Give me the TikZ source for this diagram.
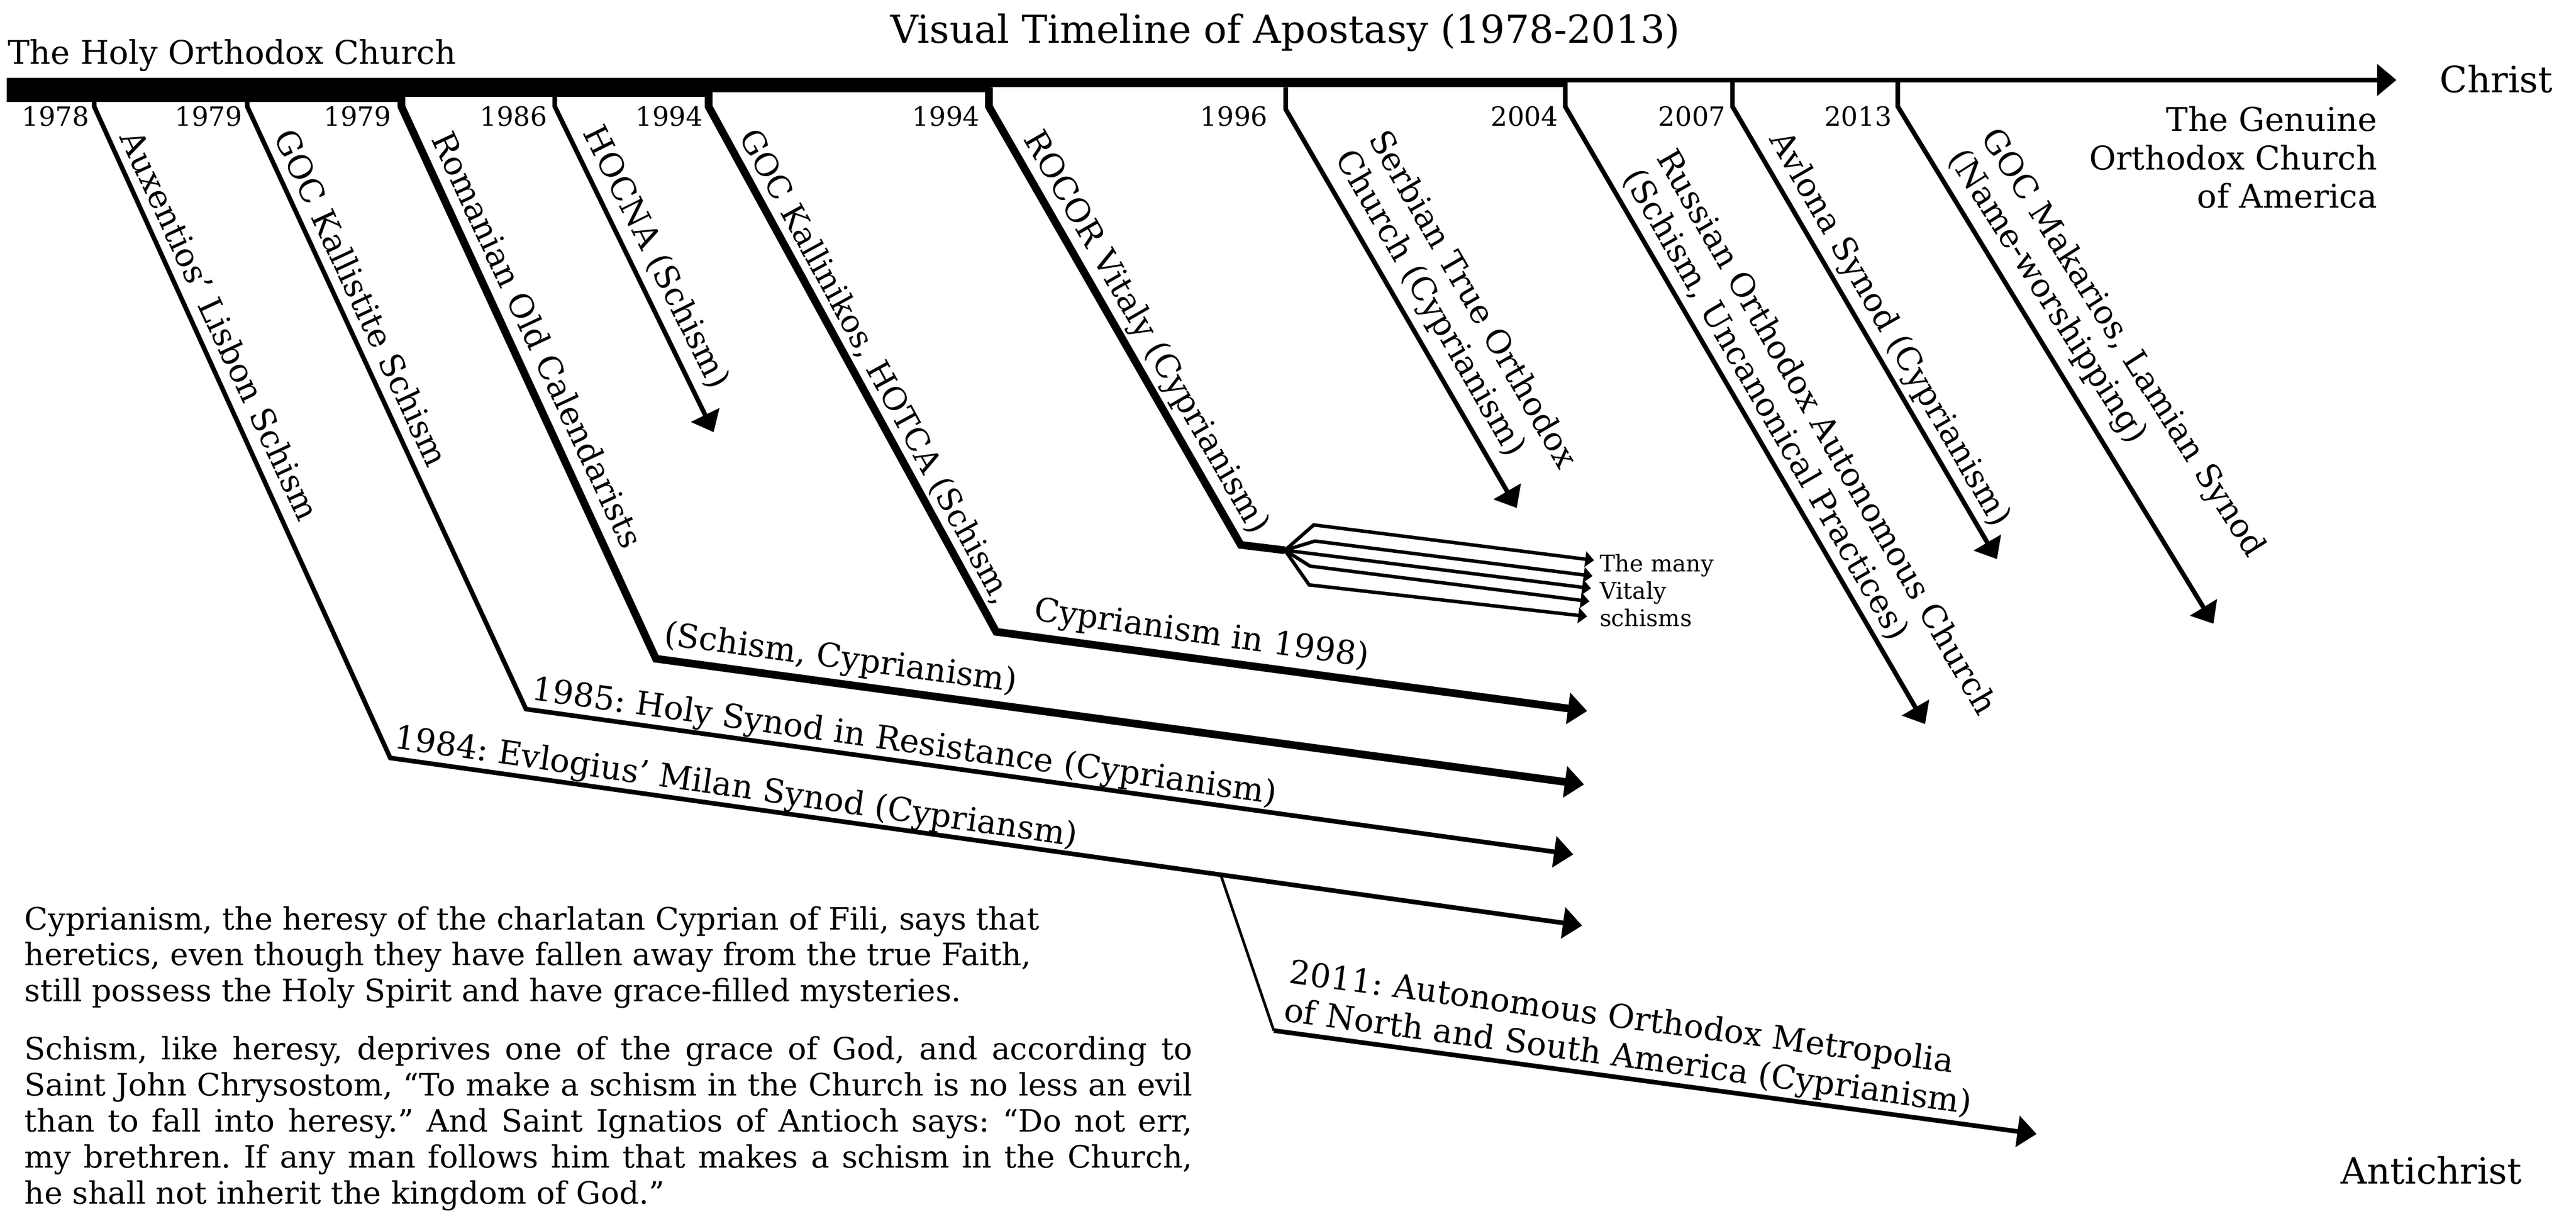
\documentclass[tikz,border=0pt]{standalone}
\usepackage{fontspec}
\setmainfont{DejaVu Serif}
\usetikzlibrary{arrows.meta}
\frenchspacing
\tikzset{
	thinline/.style={line width=1.2mm},
	thickline/.style={line width=2mm},
	bigtip/.style={-{Triangle[length=5mm,width=8mm]}},
	smalltip/.style={line width=0.9mm,-{Triangle[length=2.3mm,width=4mm]}},
	label/.style={inner sep=0pt,anchor=base west,align=left,font=\fontsize{24.2}{28.4}\selectfont},
	big/.style={font=\fontsize{26.8}{30}\selectfont},
	year/.style={inner sep=0pt,anchor=base east,font=\fontsize{19.6}{24}\selectfont},
}
\begin{document}
\begin{tikzpicture}
		\useasboundingbox (0,0) rectangle (67,-32);
		
		% main line, getting thinner
		\fill (0.18,-2.02) rectangle (10.48,-2.65);
		\fill (10.48,-2.02) rectangle (18.45,-2.525);
		\fill (18.45,-2.02) rectangle (25.75,-2.40);
		\fill (25.75,-2.02) rectangle (40.72,-2.27);
		\coordinate (mainend) at (40.72,-2.08);
		\coordinate (maintip) at (62.33,-2.08);
		\draw[line width=1.2mm,bigtip] (mainend) -- (maintip);
		
		\node[label,font=\fontsize{28.5}{30}\selectfont] (title) at (23.15,-1.12) {Visual Timeline of Apostasy (1978-2013)};
		\node[label] (holy) at (0.20,-1.67) {The Holy Orthodox Church};
		\node[label,big] (christ) at (63.45,-2.40) {Christ};
		\node[label,big,anchor=base east] (antichrist) at (65.60,-30.79) {Antichrist};
		\node[label,anchor=base east,align=right] (genuine) at (61.84,-5.41) {The Genuine\\Orthodox Church\\of America};
		
		% years
		\node[year] (y1) at (2.33,-3.28) {1978};
		\node[year] (y2) at (6.31,-3.28) {1979};
		\node[year] (y3) at (10.18,-3.28) {1979};
		\node[year] (y4) at (14.24,-3.28) {1986};
		\node[year] (y5) at (18.29,-3.28) {1994};
		\node[year] (y6) at (25.49,-3.28) {1994};
		\node[year] (y7) at (32.98,-3.28) {1996};
		\node[year] (y8) at (40.53,-3.28) {2004};
		\node[year] (y9) at (44.89,-3.28) {2007};
		\node[year] (y10) at (49.21,-3.28) {2013};
		
		% Auxentios
		\coordinate (a0) at (2.45,-2.60);
		\coordinate (a1) at (2.45,-2.77);
		\coordinate (a2) at (10.15,-19.71);
		\coordinate (a3) at (41.15,-24.07);
		\draw[thinline,bigtip] (a0) -- (a1) -- (a2) -- (a3);
		\node[label,rotate=-65] (aux) at (3.10,-3.57) {Auxentios’ Lisbon Schism};
		\node[label,rotate=-8.2] (evl) at (10.22,-19.45) {1984: Evlogius’ Milan Synod (Cypriansm)};
		
		% GOC Kallistite
		\coordinate (b0) at (6.43,-2.60);
		\coordinate (b1) at (6.43,-2.77);
		\coordinate (b2) at (13.68,-18.44);
		\coordinate (b3) at (40.92,-22.22);
		\draw[thinline,bigtip] (b0) -- (b1) -- (b2) -- (b3);
		\node[label,rotate=-65] (kal) at (7.10,-3.54) {GOC Kallistite Schism};
		\node[label,rotate=-8] (res) at (13.80,-18.19) {1985: Holy Synod in Resistance (Cyprianism)};
		
		% Romanian Old Calendarists
		\coordinate (c0) at (10.44,-2.50);
		\coordinate (c1) at (10.44,-2.77);
		\coordinate (c2) at (17.06,-17.13);
		\coordinate (c3) at (41.20,-20.40);
		\draw[thickline,bigtip] (c0) -- (c1) -- (c2) -- (c3);
		\node[label,rotate=-65] (rom) at (11.20,-3.60) {Romanian Old Calendarists};
		\node[label,rotate=-7.7] (sch) at (17.24,-16.76) {(Schism, Cyprianism)};
		
		% HOCNA
		\coordinate (d0) at (14.43,-2.50);
		\coordinate (d1) at (14.43,-2.77);
		\coordinate (d2) at (18.56,-11.24);
		\draw[thinline,bigtip] (d0) -- (d1) -- (d2);
		\node[label,rotate=-63.5] (hoc) at (15.15,-3.45) {HOCNA (Schism)};
		
		% GOC Kallinikos
		\coordinate (e0) at (18.43,-2.40);
		\coordinate (e1) at (18.43,-2.77);
		\coordinate (e2) at (25.91,-16.43);
		\coordinate (e3) at (41.28,-18.49);
		\draw[thickline,bigtip] (e0) -- (e1) -- (e2) -- (e3);
		\node[label,rotate=-61.3,font=\fontsize{23.5}{28}\selectfont] (kln) at (19.20,-3.55) {GOC Kallinikos, HOTCA (Schism,};
		\node[label,rotate=-8] (kln2) at (26.86,-16.12) {Cyprianism in 1998)};
		
		% ROCOR Vitaly and its schisms
		\coordinate (f0) at (25.72,-2.27);
		\coordinate (f1) at (25.72,-2.77);
		\coordinate (f2) at (32.27,-14.17);
		\coordinate (f3) at (33.42,-14.31);
		\draw[thickline] (f0) -- (f1) -- (f2) -- (f3);
		\node[label,rotate=-60] (roc) at (26.60,-3.60) {ROCOR Vitaly (Cyprianism)};
		\draw[smalltip] (f3) -- (34.17,-13.65) -- (41.46,-14.57);
		\draw[smalltip] (f3) -- (34.20,-14.07) -- (41.42,-14.98);
		\draw[smalltip] (f3) -- (41.38,-15.30);
		\draw[smalltip] (f3) -- (34.07,-14.72) -- (41.34,-15.64);
		\draw[smalltip] (f3) -- (34.05,-15.21) -- (41.28,-16.03);
		\node[inner sep=0pt,anchor=north west,align=left,font=\fontsize{17}{20.2}\selectfont] (many) at (41.60,-14.40) {The many\\Vitaly\\schisms};
		
		% Serbian True Orthodox
		\coordinate (g0) at (33.44,-2.27);
		\coordinate (g1) at (33.44,-2.84);
		\coordinate (g2) at (39.45,-13.21);
		\draw[thinline,bigtip] (g0) -- (g1) -- (g2);
		\node[label,rotate=-60] (srb) at (34.71,-4.10) {Serbian True Orthodox\\Church (Cyprianism)};
		
		% Russian Orthodox Autonomous
		\coordinate (h0) at (40.71,-2.14);
		\coordinate (h1) at (40.71,-2.77);
		\coordinate (h2) at (50.07,-18.83);
		\draw[thinline,bigtip] (h0) -- (h1) -- (h2);
		\node[label,rotate=-60] (rus) at (42.20,-4.60) {Russian Orthodox Autonomous Church\\(Schism, Uncanonical Practices)};
		
		% Avlona
		\coordinate (i0) at (45.06,-2.14);
		\coordinate (i1) at (45.06,-2.77);
		\coordinate (i2) at (51.94,-14.54);
		\draw[thinline,bigtip] (i0) -- (i1) -- (i2);
		\node[label,rotate=-60] (avl) at (46.00,-3.62) {Avlona Synod (Cyprianism)};
		
		% GOC Makarios
		\coordinate (j0) at (49.36,-2.14);
		\coordinate (j1) at (49.36,-2.77);
		\coordinate (j2) at (57.57,-16.22);
		\draw[thinline,bigtip] (j0) -- (j1) -- (j2);
		\node[label,rotate=-57.5] (mak) at (50.65,-4.10) {GOC Makarios, Lamian Synod\\(Name-worshipping)};
		
		% Autonomous Metropolia
		\coordinate (k0) at (31.76,-22.78);
		\coordinate (k1) at (33.13,-26.80);
		\coordinate (k2) at (52.97,-29.49);
		\draw[line width=0.7mm] (k0) -- (k1);
		\draw[thinline,bigtip] (k1) -- (k2);
		\node[label,rotate=-7.7] (met) at (33.36,-26.55) {2011: Autonomous Orthodox Metropolia\\of North and South America (Cyprianism)};
		
		% explanation
		\node[inner sep=0pt,anchor=base west,align=left,font=\fontsize{22.8}{26.45}\selectfont] (cyp) at (0.63,-26.04) {Cyprianism, the heresy of the charlatan Cyprian of Fili, says that\\heretics, even though they have fallen away from the true Faith,\\still possess the Holy Spirit and have grace-filled mysteries.};
		\node[inner sep=0pt,anchor=base west,text width=30.38cm,align=justify,font=\fontsize{22.8}{26.7}\selectfont] (schism) at (0.63,-27.56) {Schism, like heresy, deprives one of the grace of God, and according to\linebreak Saint John Chrysostom, “To make a schism in the Church is no less an evil\linebreak than to fall into heresy.” And Saint Ignatios of Antioch says: “Do not err,\linebreak my brethren. If any man follows him that makes a schism in the Church,\linebreak he shall not inherit the kingdom of God.”};
\end{tikzpicture}
\end{document}
